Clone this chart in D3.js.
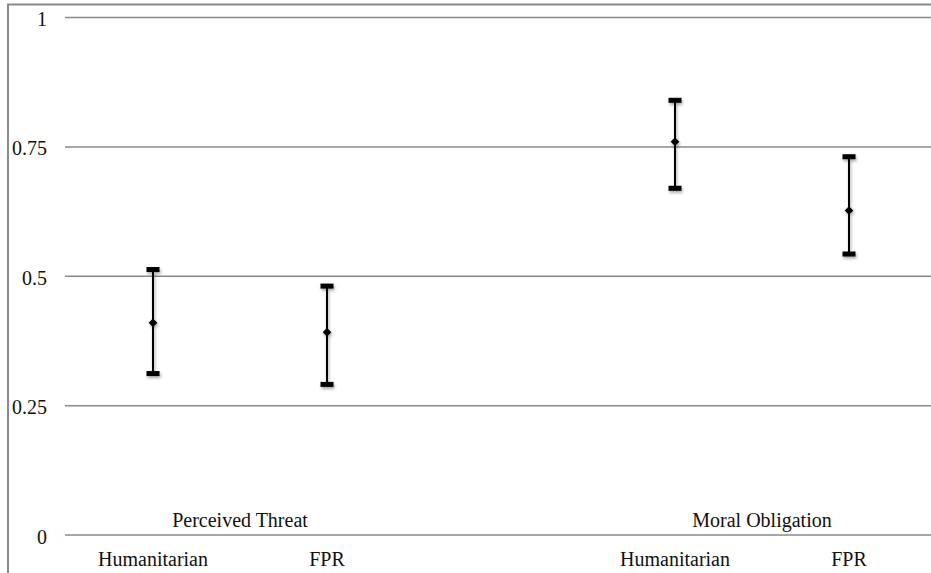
<!DOCTYPE html>
<html lang="en">
<head>
<meta charset="UTF-8">
<title>Perceived Threat and Moral Obligation</title>
<script src="https://d3js.org/d3.v7.min.js"></script>
<style>
    body { margin: 0; background: #fff; }
</style>
</head>
<body>
<div id="chart"></div>
<script>
// slots along the x axis (the empty one is the gap between the two groups)
var slots = ["PT-Hum", "PT-FPR", "gap", "MO-Hum", "MO-FPR"];
var slotLabels = ["Humanitarian", "FPR", "", "Humanitarian", "FPR"];
var groups = ["Perceived Threat", "Moral Obligation"];
var groupSlots = [["PT-Hum", "PT-FPR"], ["MO-Hum", "MO-FPR"]];

var pointKeys = ["PT-Hum", "PT-FPR", "MO-Hum", "MO-FPR"];
var means = [0.410, 0.392, 0.760, 0.627];
var upper = [0.513, 0.481, 0.840, 0.731];
var lower = [0.312, 0.291, 0.670, 0.543];

var yTicks = [0, 0.25, 0.5, 0.75, 1];

var W = 931, H = 573;
var margin = { top: 17.5, right: -5, bottom: 38, left: 66 };
var serif = "'Liberation Serif'";

var svg = d3.select("#chart").append("svg")
    .attr("width", W)
    .attr("height", H);

var defs = svg.append("defs");
var f = defs.append("filter").attr("id", "shadow")
    .attr("x", "-50%").attr("y", "-50%").attr("width", "200%").attr("height", "200%");
f.append("feDropShadow")
    .attr("dx", 1).attr("dy", 2).attr("stdDeviation", 1.5)
    .attr("flood-color", "#000").attr("flood-opacity", 0.35);

var x = d3.scaleBand()
    .domain(slots)
    .range([margin.left, W - margin.right])
    .padding(0);

var y = d3.scaleLinear()
    .domain([0, 1])
    .range([H - margin.bottom, margin.top]);

// outer frame (left and top)
svg.append("path")
    .attr("d", "M8," + H + "V4.5H" + W)
    .attr("fill", "none")
    .attr("stroke", "#8a8a8a")
    .attr("stroke-width", 2);

// gridlines
svg.append("g")
    .selectAll("line")
    .data(yTicks)
    .enter()
    .append("line")
    .attr("x1", margin.left - 1)
    .attr("x2", W)
    .attr("y1", function(d) { return y(d); })
    .attr("y2", function(d) { return y(d); })
    .attr("stroke", "#8a8a8a")
    .attr("stroke-width", 1.5);

// y labels
var ya = svg.append("g")
    .attr("transform", "translate(47,0)")
    .call(d3.axisLeft(y).tickValues(yTicks).tickFormat(function(d) { return String(d); }).tickSize(0).tickPadding(0));
ya.select(".domain").remove();
ya.selectAll("text")
    .attr("dy", "0.4em")
    .style("font-family", serif)
    .style("font-size", "20px")
    .attr("fill", "#111");

// category labels under the axis
var xa = svg.append("g")
    .attr("transform", "translate(0," + (H - margin.bottom) + ")")
    .call(d3.axisBottom(x).tickSize(0).tickPadding(17).tickFormat(function(d, i) { return slotLabels[i]; }));
xa.select(".domain").remove();
xa.selectAll("text")
    .style("font-family", serif)
    .style("font-size", "20px")
    .attr("fill", "#111");

// group labels just above the axis
svg.selectAll(".group-label")
    .data(groups)
    .enter()
    .append("text")
    .attr("class", "group-label")
    .attr("x", function(d, i) {
        var s = groupSlots[i];
        return (x(s[0]) + x(s[1]) + x.bandwidth()) / 2;
    })
    .attr("y", y(0) - 8)
    .attr("text-anchor", "middle")
    .style("font-family", serif)
    .style("font-size", "20px")
    .attr("fill", "#111")
    .text(function(d) { return d; });

// error bars
var bars = svg.append("g").attr("filter", "url(#shadow)");
var cx = function(i) { return x(pointKeys[i]) + x.bandwidth() / 2; };

pointKeys.forEach(function(k, i) {
    var g = bars.append("g");
    g.append("line")
        .attr("x1", cx(i)).attr("x2", cx(i))
        .attr("y1", y(upper[i])).attr("y2", y(lower[i]))
        .attr("stroke", "#000")
        .attr("stroke-width", 2);
    [upper[i], lower[i]].forEach(function(v) {
        g.append("rect")
            .attr("x", cx(i) - 6.5)
            .attr("y", y(v) - 2.5)
            .attr("width", 13)
            .attr("height", 5)
            .attr("fill", "#000");
    });
    g.append("path")
        .attr("d", d3.symbol().type(d3.symbolDiamond2).size(48)())
        .attr("transform", "translate(" + cx(i) + "," + y(means[i]) + ")")
        .attr("fill", "#000");
});
</script>
</body>
</html>
